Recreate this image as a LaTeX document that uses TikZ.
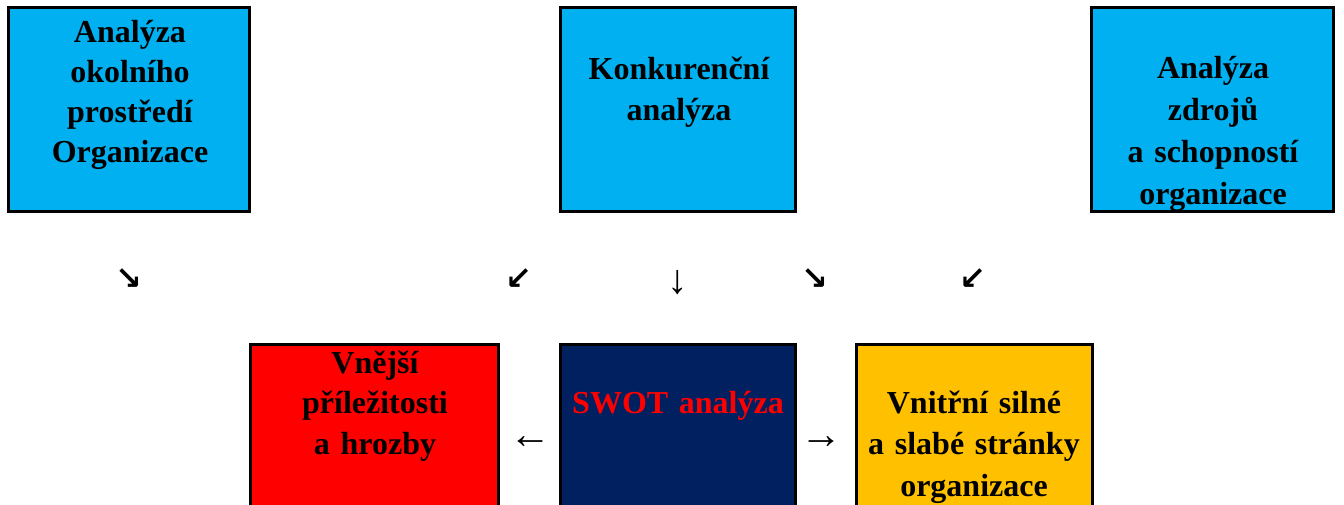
\documentclass[tikz,border=0pt]{standalone}
\usepackage{fontspec}
\setmainfont{Liberation Serif}
\newfontfamily\arrowfont{DejaVu Sans}
\definecolor{cyanbox}{HTML}{00B0F0}
\definecolor{redbox}{HTML}{FF0000}
\definecolor{navybox}{HTML}{002060}
\definecolor{yellowbox}{HTML}{FFC000}
\definecolor{swotred}{HTML}{FF0000}
\tikzset{
  boxnode/.style={draw=black, line width=3pt, rectangle, inner sep=0pt, outer sep=0pt},
  boxtext/.style={text width=236pt, align=center, anchor=base, inner sep=0pt,
    font=\fontsize{32}{41}\selectfont\bfseries},
  diagarrow/.style={anchor=center, inner sep=0pt, font=\arrowfont\bfseries\fontsize{32}{32}\selectfont},
  straightarrow/.style={anchor=center, inner sep=0pt, font=\fontsize{42}{42}\selectfont},
}
\begin{document}
\begin{tikzpicture}[x=1pt,y=-1pt]
\useasboundingbox (0,0) rectangle (1344,504);
\clip (0,0) rectangle (1344,504);
\fill[white] (0,0) rectangle (1344,504);
% top boxes
\node[boxnode, fill=cyanbox, minimum width=241pt, minimum height=204pt] (b1) at (129,109.5) {};
\node[boxnode, fill=cyanbox, minimum width=235pt, minimum height=204pt] (b2) at (678,109.5) {};
\node[boxnode, fill=cyanbox, minimum width=242pt, minimum height=204pt] (b3) at (1212.5,109.5) {};
% bottom boxes
\node[boxnode, fill=redbox, minimum width=248pt, minimum height=214pt] (b4) at (374.5,451.5) {};
\node[boxnode, fill=navybox, minimum width=235pt, minimum height=214pt] (b5) at (678,451.5) {};
\node[boxnode, fill=yellowbox, minimum width=236pt, minimum height=214pt] (b6) at (974.5,451.5) {};
% texts
\node[boxtext, font=\fontsize{32}{40}\selectfont\bfseries] (t1) at (130,42) {Analýza\\okolního\\prostředí\\Organizace};
\node[boxtext] (t2) at (679,79) {Konkurenční\\analýza};
\node[boxtext, font=\fontsize{32}{42}\selectfont\bfseries] (t3) at (1213,78) {Analýza\\zdrojů\\a schopností\\organizace};
\node[boxtext, font=\fontsize{32}{40.5}\selectfont\bfseries] (t4) at (375,373) {Vnější\\příležitosti\\a hrozby};
\node[boxtext, text=swotred] (t5) at (678,413) {SWOT analýza};
\node[boxtext, font=\fontsize{32}{41.5}\selectfont\bfseries] (t6) at (974,413) {Vnitřní silné\\a slabé stránky\\organizace};
% arrows (text glyphs)
\node[diagarrow] (a1) at (129,279) {↘};
\node[diagarrow] (a2) at (519,279) {↙};
\node[straightarrow, font=\fontsize{41}{41}\selectfont] (a3) at (678,283) {↓};
\node[diagarrow] (a4) at (815,279) {↘};
\node[diagarrow] (a5) at (973,279) {↙};
\node[straightarrow] (a6) at (530,443) {←};
\node[straightarrow] (a7) at (821,443) {→};
\end{tikzpicture}
\end{document}
